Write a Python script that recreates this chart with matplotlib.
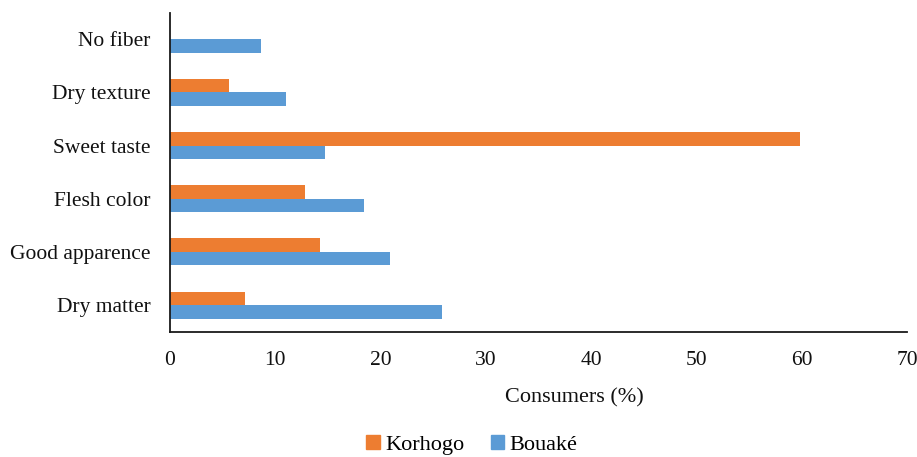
import numpy as np
import matplotlib.pyplot as plt
from matplotlib.patches import Patch

plt.rcParams['font.family'] = ['Liberation Serif', 'DejaVu Serif']

# Reasons for preference, bottom to top
criteria = ["Dry matter", "Good apparence", "Flesh color",
            "Sweet taste", "Dry texture", "No fiber"]
korhogo = [7.1, 14.2, 12.8, 59.8, 5.6, 0.0]
bouake = [25.8, 20.9, 18.4, 14.7, 11.0, 8.6]

orange = "#ED7D31"
blue = "#5B9BD5"

fig = plt.figure(figsize=(9.17, 4.57), dpi=100)
ax = fig.add_axes([0.1854, 0.2742, 0.8037, 0.6982])

y = np.arange(len(criteria))
h = 0.255
ax.barh(y + h / 2, korhogo, height=h, color=orange, label="Korhogo")
ax.barh(y - h / 2, bouake, height=h, color=blue, label="Bouaké")

ax.set_xlim(0, 70)
ax.set_ylim(-0.5, len(criteria) - 0.5)
ax.set_xticks(range(0, 71, 10))
ax.set_yticks(y)
ax.set_yticklabels(criteria)

for side in ("top", "right"):
    ax.spines[side].set_visible(False)
for side in ("left", "bottom"):
    ax.spines[side].set_linewidth(1.3)
    ax.spines[side].set_color("#1a1a1a")

ax.tick_params(axis="both", length=0, labelsize=15.5, colors="#111111")
ax.tick_params(axis="y", pad=14)
ax.tick_params(axis="x", pad=14)

ax.set_xlabel("Consumers (%)", fontsize=16, color="#111111")
ax.xaxis.label.set_va("center")
ax.xaxis.set_label_coords(0.548, -0.208)

handles = [Patch(color=orange, label="Korhogo"), Patch(color=blue, label="Bouaké")]
fig.legend(handles=handles, loc="center", ncol=2, frameon=False,
           bbox_to_anchor=(472 / 917, 1 - 445 / 457), fontsize=16,
           handlelength=0.6, handleheight=0.6, handletextpad=0.25,
           columnspacing=1.2, borderpad=0.1)

fig.savefig("out.png", dpi=100)
